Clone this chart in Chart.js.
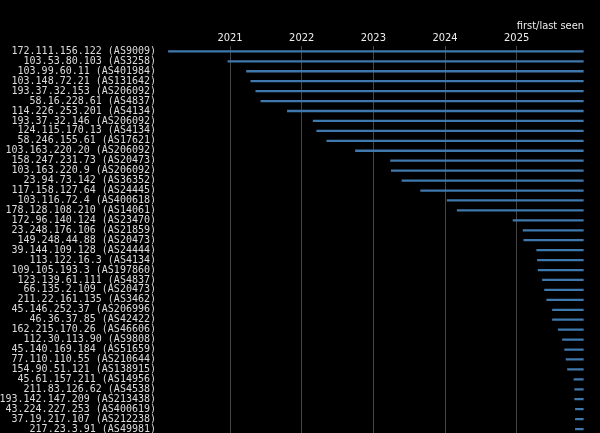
<!DOCTYPE html>
<html>
<head>
<meta charset="utf-8">
<script src="https://cdn.jsdelivr.net/npm/chart.js@4"></script>
<style>
  html, body { margin: 0; background: #000; overflow: hidden; }
  #wrap { width: 600px; height: 443px; }
</style>
</head>
<body>
<div id="wrap"><canvas id="seenChart"></canvas></div>
<script>
const hosts = [
  '172.111.156.122 (AS9009)', '103.53.80.103 (AS3258)', '103.99.60.11 (AS401984)',
  '103.148.72.21 (AS131642)', '193.37.32.153 (AS206092)', '58.16.228.61 (AS4837)',
  '114.226.253.201 (AS4134)', '193.37.32.146 (AS206092)', '124.115.170.13 (AS4134)',
  '58.246.155.61 (AS17621)', '103.163.220.20 (AS206092)', '158.247.231.73 (AS20473)',
  '103.163.220.9 (AS206092)', '23.94.73.142 (AS36352)', '117.158.127.64 (AS24445)',
  '103.116.72.4 (AS400618)', '178.128.108.210 (AS14061)', '172.96.140.124 (AS23470)',
  '23.248.176.106 (AS21859)', '149.248.44.88 (AS20473)', '39.144.109.128 (AS24444)',
  '113.122.16.3 (AS4134)', '109.105.193.3 (AS197860)', '123.139.61.111 (AS4837)',
  '66.135.2.109 (AS20473)', '211.22.161.135 (AS3462)', '45.146.252.37 (AS206996)',
  '46.36.37.85 (AS42422)', '162.215.170.26 (AS46606)', '112.30.113.90 (AS9808)',
  '45.140.169.184 (AS51659)', '77.110.110.55 (AS210644)', '154.90.51.121 (AS138915)',
  '45.61.157.211 (AS14956)', '211.83.126.62 (AS4538)', '193.142.147.209 (AS213438)',
  '43.224.227.253 (AS400619)', '37.19.217.107 (AS212238)', '217.23.3.91 (AS49981)'
];
const firstSeen = [
  2020.14, 2020.97, 2021.23, 2021.29, 2021.36, 2021.43, 2021.80, 2022.16, 2022.21,
  2022.35, 2022.75, 2023.24, 2023.25, 2023.40, 2023.66, 2024.03, 2024.17, 2024.95,
  2025.09, 2025.10, 2025.28, 2025.29, 2025.30, 2025.36, 2025.39, 2025.42, 2025.50,
  2025.50, 2025.58, 2025.64, 2025.67, 2025.69, 2025.71, 2025.80, 2025.81, 2025.81,
  2025.82, 2025.82, 2025.82
];
const lastSeen = 2025.93;
const yearTicks = [2021, 2022, 2023, 2024, 2025];

const ctx = document.getElementById('seenChart').getContext('2d');
new Chart(ctx, {
  type: 'bar',
  data: {
    labels: hosts,
    datasets: [{
      data: firstSeen.map(f => [f, lastSeen]),
      backgroundColor: '#3f78ad',
      barThickness: 1.6,
      borderSkipped: false
    }]
  },
  options: {
    indexAxis: 'y',
    responsive: true,
    maintainAspectRatio: false,
    animation: false,
    layout: { padding: { top: 20, right: 16, bottom: 0, left: 0 } },
    plugins: { legend: { display: false }, tooltip: { enabled: false } },
    scales: {
      x: {
        position: 'top',
        min: 2020.12,
        max: 2025.94,
        afterBuildTicks: axis => { axis.ticks = yearTicks.map(v => ({ value: v })); },
        ticks: {
          color: '#eee',
          font: { family: 'DejaVu Sans Condensed', size: 11 },
          callback: v => String(v),
          padding: 2
        },
        grid: { color: '#444', drawTicks: false },
        border: { display: false },
        title: {
          display: true, text: 'first/last seen', align: 'end',
          color: '#eee', font: { family: 'DejaVu Sans Condensed', size: 11 },
          padding: { top: 0, bottom: -4 }
        }
      },
      y: {
        afterFit: axis => { axis.width = 167; },
        ticks: {
          color: '#ddd',
          font: { family: 'DejaVu Sans Mono', size: 10 },
          autoSkip: false,
          padding: 3
        },
        grid: { display: false },
        border: { display: false }
      }
    }
  }
});
</script>
</body>
</html>
